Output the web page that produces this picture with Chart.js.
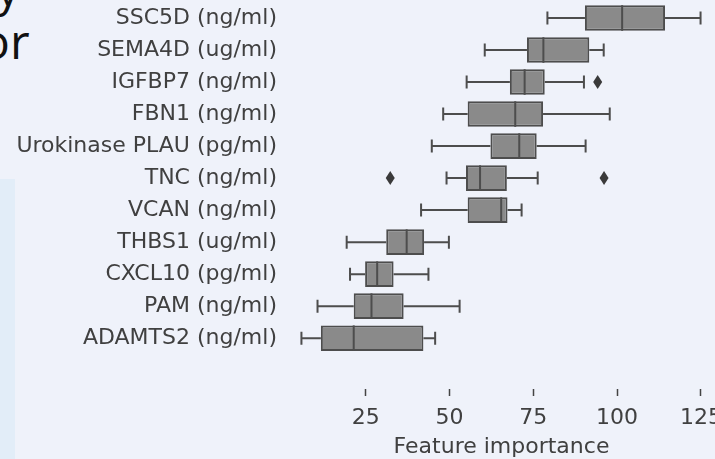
<!DOCTYPE html>
<html>
<head>
<meta charset="utf-8">
<script src="https://cdn.jsdelivr.net/npm/chart.js@4/dist/chart.umd.min.js"></script>
<style>
  html, body { margin: 0; padding: 0; }
  body {
    width: 715px; height: 459px; overflow: hidden; position: relative;
    background: #eff2fa; font-family: "DejaVu Sans", sans-serif;
  }
  .side { position: absolute; left: 0; top: 179px; width: 15px; height: 280px; background: #e2edf8; }
  .frag { position: absolute; color: #111; font-family: "Open Sans", sans-serif; font-size: 48px; line-height: 1; }
  #wrap { position: absolute; left: 0; top: 0; width: 721px; height: 475px; }
</style>
</head>
<body>
<div class="side"></div>
<div class="frag" style="left:-4px; top:-36px;">y</div>
<div class="frag" style="left:-19px; top:17px;">or</div>
<div id="wrap"><canvas id="chart"></canvas></div>
<script>
// feature names, top to bottom
const labels = [
  "SSC5D (ng/ml)", "SEMA4D (ug/ml)", "IGFBP7 (ng/ml)", "FBN1 (ng/ml)",
  "Urokinase PLAU (pg/ml)", "TNC (ng/ml)", "VCAN (ng/ml)", "THBS1 (ug/ml)",
  "CXCL10 (pg/ml)", "PAM (ng/ml)", "ADAMTS2 (ng/ml)"
]
// box plot stats
const whiskerLow  = [79.2, 60.5, 55.1, 48.1, 44.7, 49.1, 41.5, 19.3, 20.3, 10.6, 5.8]
const q1          = [90.4, 73.1, 68.0, 55.4, 62.2, 54.9, 55.4, 31.1, 24.8, 21.4, 11.6]
const median      = [101.5, 78.0, 72.4, 69.6, 70.8, 59.1, 65.4, 37.2, 28.4, 26.7, 21.4]
const q3          = [114.3, 91.7, 78.4, 77.9, 76.0, 67.1, 67.3, 42.4, 33.3, 36.3, 42.2]
const whiskerHigh = [124.9, 96.0, 90.1, 97.8, 90.6, 76.3, 71.5, 49.8, 43.7, 53.0, 45.7]
// outliers: [row index, value]
const outliers = [[2, 94.2], [5, 32.3], [5, 96.1]]
const xTicks = [25, 50, 75, 100, 125]

const lineColor = "#4d4d4d"
const textColor = "#404040"

// whiskers, caps, medians and outlier diamonds
const boxExtras = {
  id: "boxExtras",
  beforeDatasetsDraw(chart) {
    const { ctx, scales: { x, y } } = chart
    ctx.save()
    ctx.strokeStyle = lineColor
    ctx.lineWidth = 2
    labels.forEach((l, i) => {
      const cy = y.getPixelForValue(i)
      const cap = 6.5
      ctx.beginPath()
      ctx.moveTo(x.getPixelForValue(whiskerLow[i]), cy)
      ctx.lineTo(x.getPixelForValue(q1[i]), cy)
      ctx.moveTo(x.getPixelForValue(q3[i]), cy)
      ctx.lineTo(x.getPixelForValue(whiskerHigh[i]), cy)
      ctx.moveTo(x.getPixelForValue(whiskerLow[i]), cy - cap)
      ctx.lineTo(x.getPixelForValue(whiskerLow[i]), cy + cap)
      ctx.moveTo(x.getPixelForValue(whiskerHigh[i]), cy - cap)
      ctx.lineTo(x.getPixelForValue(whiskerHigh[i]), cy + cap)
      ctx.stroke()
    })
    ctx.restore()
  },
  afterDatasetsDraw(chart) {
    const { ctx, scales: { x, y } } = chart
    const meta = chart.getDatasetMeta(0)
    ctx.save()
    ctx.strokeStyle = lineColor
    ctx.lineWidth = 2
    labels.forEach((l, i) => {
      const bar = meta.data[i]
      const half = bar.height / 2
      const mx = x.getPixelForValue(median[i])
      ctx.beginPath()
      ctx.moveTo(mx, bar.y - half)
      ctx.lineTo(mx, bar.y + half)
      ctx.stroke()
    })
    ctx.fillStyle = "#3a3a3a"
    outliers.forEach(([i, v]) => {
      const px = x.getPixelForValue(v)
      const py = y.getPixelForValue(i)
      ctx.beginPath()
      ctx.moveTo(px, py - 7)
      ctx.lineTo(px + 4.5, py)
      ctx.lineTo(px, py + 7)
      ctx.lineTo(px - 4.5, py)
      ctx.closePath()
      ctx.fill()
    })
    ctx.restore()
  }
}

new Chart(document.getElementById("chart"), {
  type: "bar",
  data: {
    labels: labels,
    datasets: [{
      data: labels.map((l, i) => [q1[i], q3[i]]),
      backgroundColor: "#8a8a8a",
      borderColor: lineColor,
      borderWidth: 2,
      borderSkipped: false,
      barPercentage: 0.8,
      categoryPercentage: 1
    }]
  },
  options: {
    indexAxis: "y",
    responsive: true,
    maintainAspectRatio: false,
    animation: false,
    layout: { padding: { left: 0, right: 0, top: 2, bottom: 15 } },
    plugins: { legend: { display: false }, tooltip: { enabled: false } },
    scales: {
      x: {
        type: "linear",
        min: 0,
        max: 131,
        afterBuildTicks: (scale) => { scale.ticks = xTicks.map(v => ({ value: v })) },
        afterFit: (scale) => { scale.paddingLeft = 0; scale.paddingRight = 0 },
        border: { display: false },
        grid: {
          drawOnChartArea: false,
          tickLength: 42,
          tickColor: "#444",
          tickWidth: 1.5,
          tickBorderDash: [0, 35, 7, 200]
        },
        ticks: { color: textColor, font: { family: "DejaVu Sans", size: 22 }, padding: 9 },
        title: {
          display: true,
          text: "Feature importance",
          color: textColor,
          font: { family: "DejaVu Sans", size: 22 },
          padding: { top: -7, bottom: 0 }
        }
      },
      y: {
        border: { display: false },
        grid: { display: false },
        afterFit: (scale) => {
          scale.width = 282
          scale.paddingTop = 0
          scale.paddingBottom = 0
        },
        ticks: { color: textColor, font: { family: "DejaVu Sans", size: 22 }, padding: -3 }
      }
    }
  },
  plugins: [boxExtras]
})
</script>
</body>
</html>
